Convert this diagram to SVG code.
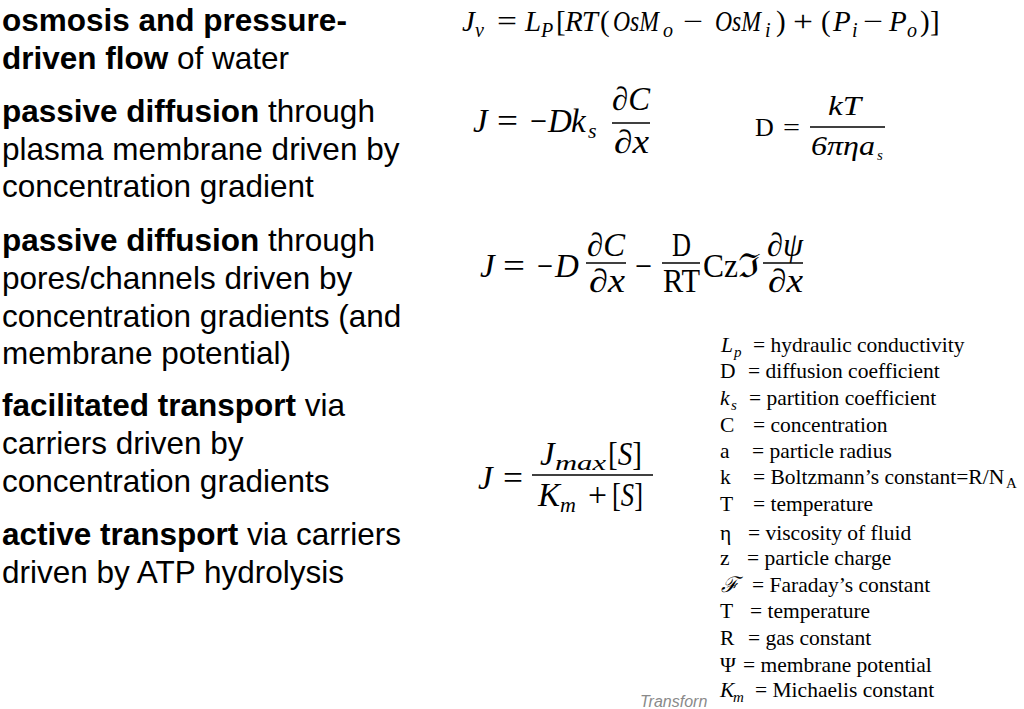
<svg xmlns="http://www.w3.org/2000/svg" width="1024" height="709" viewBox="0 0 1024 709">
<style>
.lt{font-family:"Liberation Sans",Arial,sans-serif;font-size:31.5px;fill:#000}
.b{font-weight:bold}
.m{font-family:"Liberation Serif","DejaVu Serif",serif;fill:#000}
.i{font-style:italic}
.e1{font-size:29px}
.s1{font-size:20px}
.e2{font-size:33px}
.s2{font-size:22px}
.e3{font-size:26px}
.e4{font-size:27px}
.lg{font-family:"Liberation Serif","DejaVu Serif",serif;font-size:21.5px;fill:#000}
.ls{font-size:15px}
.bar{stroke:#000;stroke-width:1.6}
</style>
<rect width="1024" height="709" fill="#fff"/>

<g id="left-text">
<text class="lt b" x="2" y="31">osmosis and pressure-</text>
<text class="lt" x="2" y="69"><tspan class="b">driven flow</tspan> of water</text>
<text class="lt" x="2" y="122"><tspan class="b">passive diffusion</tspan> through</text>
<text class="lt" x="2" y="160">plasma membrane driven by</text>
<text class="lt" x="2" y="197">concentration gradient</text>
<text class="lt" x="2" y="251"><tspan class="b">passive diffusion</tspan> through</text>
<text class="lt" x="2" y="289">pores/channels driven by</text>
<text class="lt" x="2" y="327">concentration gradients (and</text>
<text class="lt" x="2" y="364">membrane potential)</text>
<text class="lt" x="2" y="416"><tspan class="b">facilitated transport</tspan> via</text>
<text class="lt" x="2" y="454">carriers driven by</text>
<text class="lt" x="2" y="492">concentration gradients</text>
<text class="lt" x="2" y="545"><tspan class="b">active transport</tspan> via carriers</text>
<text class="lt" x="2" y="583">driven by ATP hydrolysis</text>
</g>

<g id="eq-osmosis">
<text class="m e1 i" x="462" y="31">J</text>
<text class="m s1 i" x="475" y="37">v</text>
<text class="m e1" x="497" y="31" textLength="20" lengthAdjust="spacingAndGlyphs">=</text>
<text class="m e1 i" x="525" y="31">L</text>
<text class="m s1 i" x="541" y="37">P</text>
<text class="m e1" x="556" y="31">[</text>
<text class="m e1 i" x="565" y="31" textLength="33">RT</text>
<text class="m e1" x="600" y="31">(</text>
<text class="m e1 i" x="613" y="31" textLength="46" lengthAdjust="spacingAndGlyphs">OsM</text>
<text class="m s1 i" x="663" y="37">o</text>
<text class="m e1" x="683" y="31" textLength="20" lengthAdjust="spacingAndGlyphs">−</text>
<text class="m e1 i" x="715" y="31" textLength="46" lengthAdjust="spacingAndGlyphs">OsM</text>
<text class="m s1 i" x="765" y="37">i</text>
<text class="m e1" x="776" y="31">)</text>
<text class="m e1" x="793" y="31" textLength="20" lengthAdjust="spacingAndGlyphs">+</text>
<text class="m e1" x="821" y="31">(</text>
<text class="m e1 i" x="833" y="31">P</text>
<text class="m s1 i" x="852" y="37">i</text>
<text class="m e1" x="863" y="31" textLength="20" lengthAdjust="spacingAndGlyphs">−</text>
<text class="m e1 i" x="889" y="31">P</text>
<text class="m s1 i" x="907" y="37">o</text>
<text class="m e1" x="920" y="31">)</text>
<text class="m e1" x="930" y="31">]</text>
</g>

<g id="eq-diffusion-membrane">
<text class="m e2 i" x="473" y="132">J</text>
<text class="m e2" x="497" y="132" textLength="21" lengthAdjust="spacingAndGlyphs">=</text>
<text class="m e2" x="530" y="132" textLength="17" lengthAdjust="spacingAndGlyphs">−</text>
<text class="m e2 i" x="548" y="132">D</text>
<text class="m e2 i" x="571" y="132">k</text>
<text class="m s2 i" x="588" y="138">s</text>
<text class="m e2 i" x="612" y="110" textLength="38" lengthAdjust="spacingAndGlyphs">∂C</text>
<line class="bar" x1="612" y1="123" x2="650" y2="123"/>
<text class="m e2 i" x="614" y="153" textLength="35" lengthAdjust="spacingAndGlyphs">∂x</text>
</g>

<g id="eq-stokes-einstein">
<text class="m e3" x="755" y="136">D</text>
<text class="m e3" x="783" y="136" textLength="17" lengthAdjust="spacingAndGlyphs">=</text>
<text class="m e4 i" x="828" y="115" textLength="33" lengthAdjust="spacingAndGlyphs">kT</text>
<line class="bar" x1="810" y1="127" x2="885" y2="127"/>
<text class="m e4 i" x="811" y="155" textLength="64" lengthAdjust="spacingAndGlyphs">6πηa</text>
<text class="m ls i" x="877" y="160">s</text>
</g>

<g id="eq-diffusion-pores">
<text class="m e2 i" x="480" y="277">J</text>
<text class="m e2" x="503" y="277" textLength="22" lengthAdjust="spacingAndGlyphs">=</text>
<text class="m e2" x="537" y="277" textLength="16" lengthAdjust="spacingAndGlyphs">−</text>
<text class="m e2 i" x="555" y="277">D</text>
<text class="m e2 i" x="587" y="256" textLength="38" lengthAdjust="spacingAndGlyphs">∂C</text>
<line class="bar" x1="586" y1="263" x2="626" y2="263"/>
<text class="m e2 i" x="589" y="292" textLength="36" lengthAdjust="spacingAndGlyphs">∂x</text>
<text class="m e2" x="635" y="277" textLength="17" lengthAdjust="spacingAndGlyphs">−</text>
<text class="m e2" x="672" y="256" textLength="19" lengthAdjust="spacingAndGlyphs">D</text>
<line class="bar" x1="662" y1="263" x2="700" y2="263"/>
<text class="m e2" x="663" y="292" textLength="37" lengthAdjust="spacingAndGlyphs">RT</text>
<text class="m e2" x="703" y="277" textLength="35" lengthAdjust="spacingAndGlyphs">Cz</text>
<text class="m e2" x="738" y="277" textLength="22" lengthAdjust="spacingAndGlyphs">ℑ</text>
<text class="m e2 i" x="767" y="256" textLength="36" lengthAdjust="spacingAndGlyphs">∂ψ</text>
<line class="bar" x1="763" y1="263" x2="803" y2="263"/>
<text class="m e2 i" x="768" y="292" textLength="35" lengthAdjust="spacingAndGlyphs">∂x</text>
</g>

<g id="eq-carrier">
<text class="m e2 i" x="478" y="489">J</text>
<text class="m e2" x="503" y="489" textLength="20" lengthAdjust="spacingAndGlyphs">=</text>
<text class="m e2 i" x="540" y="465">J</text>
<text class="m s2 i" x="555" y="470" textLength="51" lengthAdjust="spacingAndGlyphs">max</text>
<text class="m e2" x="608" y="465" textLength="34" lengthAdjust="spacingAndGlyphs">[<tspan class="i">S</tspan>]</text>
<line class="bar" x1="532" y1="475" x2="653" y2="475"/>
<text class="m e2 i" x="538" y="506">K</text>
<text class="m s2 i" x="560" y="512">m</text>
<text class="m e2" x="588" y="506" textLength="19" lengthAdjust="spacingAndGlyphs">+</text>
<text class="m e2" x="612" y="506" textLength="31" lengthAdjust="spacingAndGlyphs">[<tspan class="i">S</tspan>]</text>
</g>

<g id="legend">
<text class="lg i" x="721" y="352">L</text><text class="lg ls i" x="734" y="357">p</text><text class="lg" x="753" y="352">= hydraulic conductivity</text>
<text class="lg" x="720" y="378">D</text><text class="lg" x="748" y="378">= diffusion coefficient</text>
<text class="lg i" x="720" y="405">k</text><text class="lg ls i" x="731" y="410">s</text><text class="lg" x="749" y="405">= partition coefficient</text>
<text class="lg" x="720" y="432">C</text><text class="lg" x="753" y="432">= concentration</text>
<text class="lg" x="720" y="458">a</text><text class="lg" x="752" y="458">= particle radius</text>
<text class="lg" x="720" y="484">k</text><text class="lg" x="753" y="484">= Boltzmann’s constant=R/N</text><text class="lg ls" x="1006" y="488">A</text>
<text class="lg" x="720" y="511">T</text><text class="lg" x="753" y="511">= temperature</text>
<text class="lg" x="720" y="540">η</text><text class="lg" x="748" y="540">= viscosity of fluid</text>
<text class="lg" x="720" y="565">z</text><text class="lg" x="747" y="565">= particle charge</text>
<text class="lg i" x="721" y="592">ℱ</text><text class="lg" x="752" y="592">= Faraday’s constant</text>
<text class="lg" x="720" y="618">T</text><text class="lg" x="750" y="618">= temperature</text>
<text class="lg" x="720" y="645">R</text><text class="lg" x="748" y="645">= gas constant</text>
<text class="lg" x="720" y="672">Ψ</text><text class="lg" x="743" y="672">= membrane potential</text>
<text class="lg i" x="720" y="697">K</text><text class="lg ls i" x="733" y="702">m</text><text class="lg" x="755" y="697">= Michaelis constant</text>
</g>

<text x="640" y="707" font-family="'Liberation Sans',Arial,sans-serif" font-size="16" font-style="italic" fill="#8a8a8a">Transforn</text>
</svg>
